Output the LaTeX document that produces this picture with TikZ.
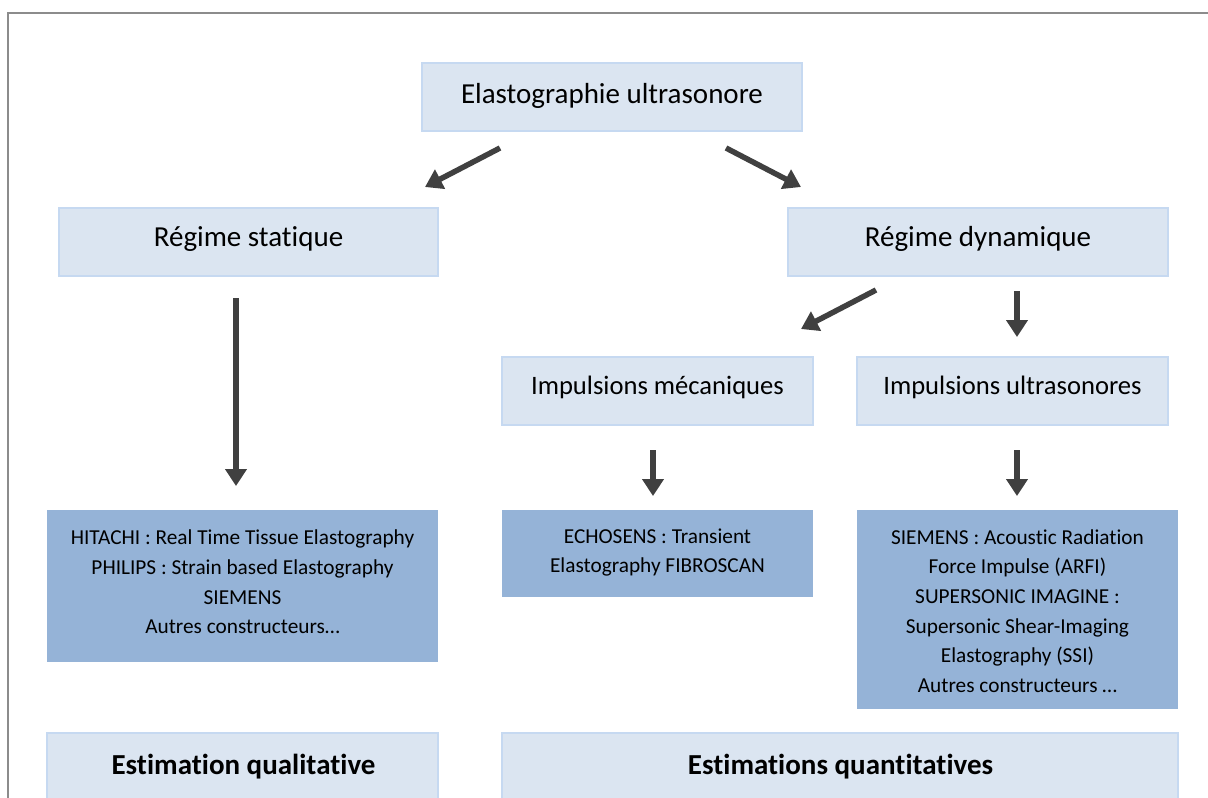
\documentclass[tikz,border=0pt]{standalone}
\usepackage{fontspec}
\setmainfont[Ligatures=NoCommon]{Carlito}
\usetikzlibrary{arrows.meta}
\definecolor{lightfill}{HTML}{DBE5F1}
\definecolor{lightedge}{HTML}{C6D9F1}
\definecolor{darkfill}{HTML}{95B3D7}
\definecolor{arrowgray}{HTML}{404040}
\definecolor{framegray}{HTML}{8C8C8C}
\tikzset{
  lightbox/.style={fill=lightfill, draw=lightedge, line width=1.5pt, inner sep=0pt, align=center},
  darkbox/.style={fill=darkfill, draw=none, inner sep=0pt, align=center},
  label/.style={inner sep=0pt, align=center},
  bigtext/.style={font=\fontsize{29}{35}\selectfont},
  midtext/.style={font=\fontsize{26.6}{32}\selectfont},
  smalltext/.style={font=\fontsize{21.3}{29.7}\selectfont},
  boldtext/.style={font=\fontsize{29}{35}\selectfont\bfseries},
  bigarrow/.style={draw=arrowgray, line width=5.5pt, -{Triangle[length=17pt,width=21pt]}, fill=arrowgray},
}
\begin{document}
\begin{tikzpicture}[x=1pt,y=-1pt]
\useasboundingbox (0,0) rectangle (1208,798);
\clip (0,0) rectangle (1208,798);
\fill[white] (0,0) rectangle (1208,798);
% frame
\draw[framegray, line width=2pt] (8,800) -- (8,12.5) -- (1210,12.5);

% boxes
\node[lightbox, minimum width=380pt, minimum height=68pt] (top) at (612,97) {};
\node[label, bigtext] (toptext) at (612,96) {Elastographie ultrasonore};
\node[lightbox, minimum width=379pt, minimum height=68pt] (stat) at (248.5,242) {};
\node[label, bigtext] (stattext) at (248.5,239) {Régime statique};
\node[lightbox, minimum width=380pt, minimum height=68pt] (dyn) at (978,242) {};
\node[label, bigtext] (dyntext) at (978,239) {Régime dynamique};
\node[lightbox, minimum width=311pt, minimum height=68pt] (mec) at (657.5,391) {};
\node[label, midtext] (mectext) at (657.5,387.5) {Impulsions mécaniques};
\node[lightbox, minimum width=311pt, minimum height=68pt] (ultra) at (1012.5,391) {};
\node[label, midtext] (ultratext) at (1012.5,387.5) {Impulsions ultrasonores};

\node[darkbox, minimum width=391pt, minimum height=152pt] (hit) at (242.5,586) {};
\node[label, smalltext] (hittext) at (242.5,582) {HITACHI : Real Time Tissue Elastography\\PHILIPS : Strain based Elastography\\SIEMENS\\Autres constructeurs…};
\node[darkbox, minimum width=311pt, minimum height=87pt] (echo) at (657.5,553.5) {};
\node[label, smalltext] (echotext) at (657.5,552.5) {ECHOSENS : Transient\\Elastography FIBROSCAN};
\node[darkbox, minimum width=321pt, minimum height=199pt] (siem) at (1017.5,609.5) {};
\node[label, smalltext] (siemtext) at (1017.5,611) {SIEMENS : Acoustic Radiation\\Force Impulse (ARFI)\\SUPERSONIC IMAGINE :\\Supersonic Shear-Imaging\\Elastography (SSI)\\Autres constructeurs …};

\node[lightbox, minimum width=391pt, minimum height=100pt] (qualbox) at (242.5,783) {};
\node[label, boldtext] (qual) at (243.5,767) {Estimation qualitative};
\node[lightbox, minimum width=676pt, minimum height=100pt] (quantbox) at (840,783) {};
\node[label, boldtext] (quant) at (840.5,767) {Estimations quantitatives};

% arrow anchors
\coordinate (a1s) at (500,148); \coordinate (a1e) at (425,187);
\coordinate (a2s) at (726,148); \coordinate (a2e) at (801,187);
\coordinate (a3s) at (236,298); \coordinate (a3e) at (236,486);
\coordinate (a4s) at (876,290); \coordinate (a4e) at (801,329);
\coordinate (a5s) at (1017,291); \coordinate (a5e) at (1017,337);
\coordinate (a6s) at (653,450); \coordinate (a6e) at (653,496);
\coordinate (a7s) at (1017,450); \coordinate (a7e) at (1017,496);

\draw[bigarrow] (a1s) -- (a1e);
\draw[bigarrow] (a2s) -- (a2e);
\draw[bigarrow] (a3s) -- (a3e);
\draw[bigarrow] (a4s) -- (a4e);
\draw[bigarrow] (a5s) -- (a5e);
\draw[bigarrow] (a6s) -- (a6e);
\draw[bigarrow] (a7s) -- (a7e);
\end{tikzpicture}
\end{document}
